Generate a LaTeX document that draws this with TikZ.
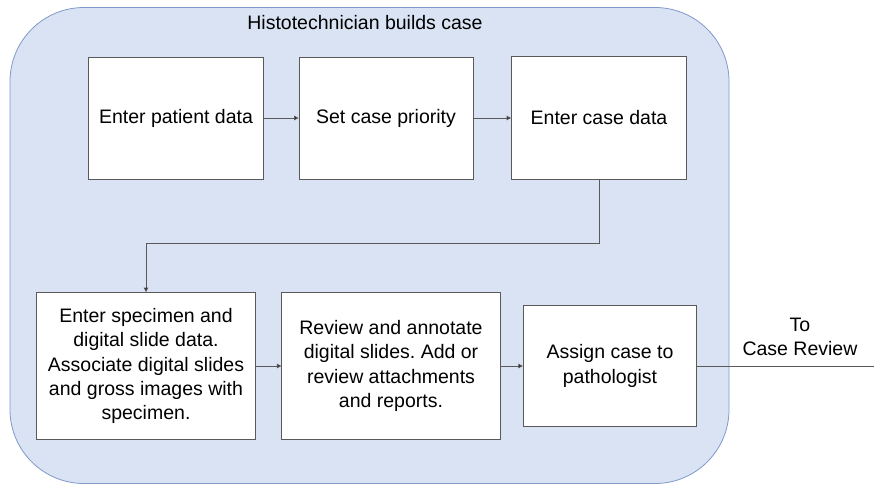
\documentclass[tikz,border=0pt]{standalone}
\usepackage{fontspec}
\setmainfont{Liberation Sans}
\usetikzlibrary{arrows.meta}
\definecolor{bgfill}{HTML}{DAE3F3}
\definecolor{bgline}{HTML}{7F99C9}
\definecolor{lnc}{HTML}{595959}
\frenchspacing
\begin{document}
\begin{tikzpicture}[x=1pt,y=-1pt,
  stepbox/.style={draw=lnc,line width=0.9pt,fill=white,align=center,inner sep=0pt,
    font=\fontsize{19.5}{24.2}\selectfont},
  conn/.style={draw=lnc,line width=0.9pt,-{Triangle[length=4.5pt,width=4.5pt,fill=black]}},
  lbl/.style={align=center,font=\fontsize{19.5}{24.2}\selectfont}]
\useasboundingbox (0,0) rectangle (874,485);
\draw[fill=bgfill,draw=bgline,line width=0.8pt,rounded corners=74pt] (10,7.5) rectangle (729,483.5);
\node[lbl] (title) at (365,23) {Histotechnician builds case};
\node[stepbox,minimum width=175pt,minimum height=122pt] (b1) at (176,118) {Enter patient data};
\node[stepbox,minimum width=174pt,minimum height=122pt] (b2) at (386,118) {Set case priority};
\node[stepbox,minimum width=175pt,minimum height=123pt] (b3) at (599,118) {Enter case data};
\node[stepbox,minimum width=218.5pt,minimum height=147pt] (b4) at (146,366) {Enter specimen and\\digital slide data.\\Associate digital slides\\and gross images with\\specimen.};
\node[stepbox,minimum width=218.5pt,minimum height=147pt] (b5) at (391,366) {Review and annotate\\digital slides. Add or\\review attachments\\and reports.};
\node[stepbox,minimum width=173.5pt,minimum height=121.5pt] (b6) at (610,366) {Assign case to\\pathologist};
\node[lbl] (out) at (800,337) {To\\Case Review};
\coordinate (exit) at (874,366);
\draw[conn] (b1) -- (b2);
\draw[conn] (b2) -- (b3);
\draw[conn] (b3.south) -- ++(0,63) -| (b4.north);
\draw[conn] (b4) -- (b5);
\draw[conn] (b5) -- (b6);
\draw[draw=lnc,line width=0.9pt] (b6.east) -- (exit);
\end{tikzpicture}
\end{document}
